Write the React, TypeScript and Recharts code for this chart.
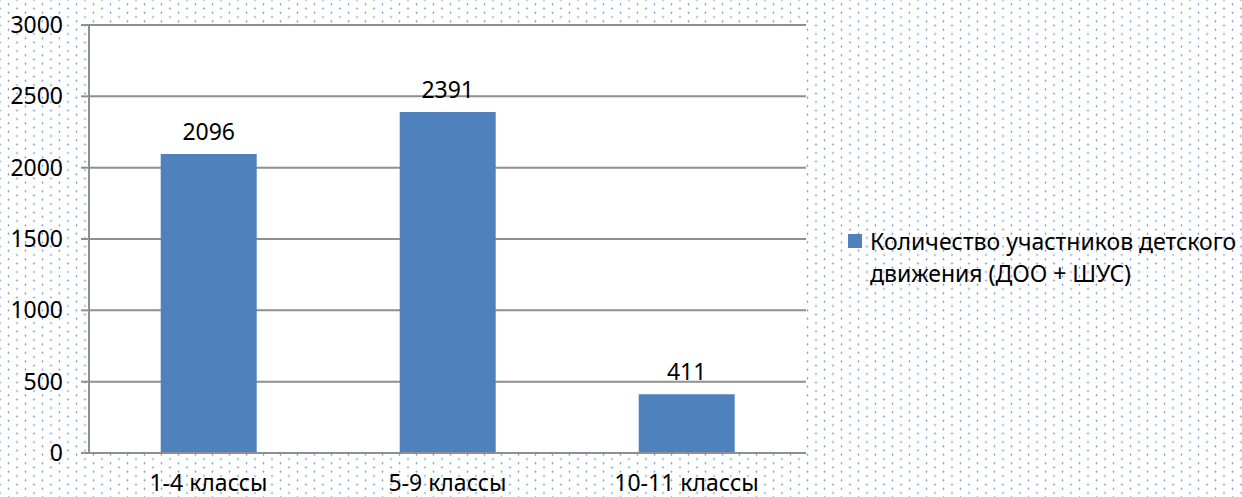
import { Bar, BarChart, CartesianGrid, LabelList, Legend, XAxis, YAxis } from "recharts";

// Participants of the children's movement by grade group.
const categories = ["1-4 классы", "5-9 классы", "10-11 классы"];
const participants = [2096, 2391, 411];
const yTicks = [0, 500, 1000, 1500, 2000, 2500, 3000];
const seriesName = "Количество участников детского движения (ДОО + ШУС)";

const data = categories.map((c, i) => ({ idx: i + 0.5, name: c, value: participants[i] }));

const FONT = "'Noto Sans', 'Open Sans', sans-serif";
const FS = 23;
const GRID = "#8f8f8f";

function LegendBox() {
  return (
    <div style={{ display: "flex", alignItems: "flex-start", fontFamily: FONT, fontSize: FS, color: "#000" }}>
      <span style={{ width: 14, height: 14, background: "#4f81bd", marginTop: 0, marginRight: 8, flex: "none" }} />
      <span style={{ lineHeight: "32px", marginTop: -9 }}>
        Количество участников детского
        <br />
        движения (ДОО + ШУС)
      </span>
    </div>
  );
}

export default function App() {
  return (
    <div
      style={{
        position: "absolute",
        left: 0,
        top: 0,
        width: 1242,
        height: 497,
        overflow: "hidden",
        backgroundColor: "#fff",
        backgroundImage:
          "radial-gradient(circle, #6a91cc 0.8px, transparent 1.1px), radial-gradient(circle, #6a91cc 0.8px, transparent 1.1px)",
        backgroundSize: "17px 8.5px, 17px 8.5px",
        backgroundPosition: "0px 0px, 8.5px 4.25px",
      }}
    >
      <BarChart
        width={1242}
        height={497}
        data={data}
        margin={{ top: 25, right: 436, bottom: 42, left: 0 }}
        barCategoryGap="30%"
      >
        <CartesianGrid vertical={false} stroke={GRID} strokeWidth={2} fill="#fff" fillOpacity={1} />
        <XAxis
          dataKey="name"
          xAxisId="cat"
          height={1}
          tickLine={false}
          axisLine={{ stroke: GRID, strokeWidth: 2 }}
          tickSize={0}
          tickMargin={22}
          tick={{ fill: "#000", fontSize: FS, fontFamily: FONT }}
          interval={0}
        />
        <XAxis
          xAxisId="edge"
          type="number"
          dataKey="idx"
          domain={[0, 3]}
          ticks={[0, 1, 2, 3]}
          tick={false}
          tickSize={8}
          tickLine={{ stroke: GRID, strokeWidth: 2 }}
          axisLine={false}
          height={1}
        />
        <YAxis
          width={89}
          domain={[0, 3000]}
          ticks={yTicks}
          tickSize={8}
          tickMargin={18}
          tickLine={{ stroke: GRID, strokeWidth: 2 }}
          axisLine={{ stroke: GRID, strokeWidth: 2 }}
          tick={{ fill: "#000", fontSize: FS, fontFamily: FONT }}
          interval={0}
        />
        <Legend
          layout="vertical"
          align="center"
          verticalAlign="middle"
          wrapperStyle={{ left: 848, top: 234, width: 394 }}
          content={() => <LegendBox />}
        />
        <Bar dataKey="value" xAxisId="cat" name={seriesName} fill="#4f81bd" isAnimationActive={false}>
          <LabelList
            dataKey="value"
            position="top"
            offset={14}
            fill="#000"
            fontSize={FS}
            fontFamily={FONT}
          />
        </Bar>
      </BarChart>
    </div>
  );
}
